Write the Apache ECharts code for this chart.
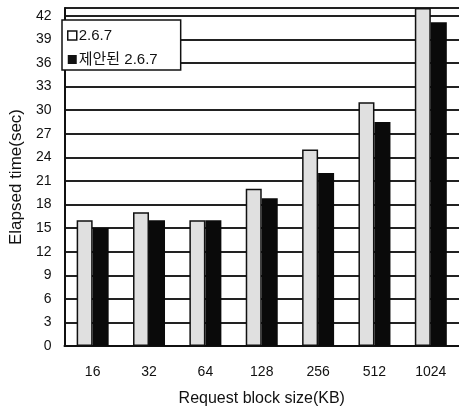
<!DOCTYPE html>
<html>
<head>
<meta charset="utf-8">
<script src="https://cdn.jsdelivr.net/npm/echarts@6/dist/echarts.min.js"></script>
<style>
  html, body { margin: 0; padding: 0; background: #fff; }
  #chart { width: 459px; height: 412px; }
</style>
</head>
<body>
<div id="chart"></div>
<script>
// Request block sizes (KB) and elapsed times (sec) for both kernels
const blockSizes = ['16', '32', '64', '128', '256', '512', '1024'];
const baseKernel = [16, 17, 16, 20, 25, 31, 43];
const proposedKernel = [15, 16, 16, 18.8, 22, 28.5, 41.2];
const seriesNames = ['2.6.7', '제안된 2.6.7'];

const FONT = '"Liberation Sans", Arial, "Noto Sans CJK KR", sans-serif';
const INK = '#111';

const chart = echarts.init(document.getElementById('chart'), null, { renderer: 'canvas' });

chart.setOption({
  animation: false,
  backgroundColor: '#fff',
  grid: { left: 62, top: 8, width: 399, bottom: 60, containLabel: false },
  legend: {
    orient: 'vertical',
    left: 62,
    top: 20,
    backgroundColor: '#fff',
    borderColor: INK,
    borderWidth: 1.5,
    padding: [8, 23, 3, 5],
    itemGap: 9,
    itemWidth: 9,
    itemHeight: 9,
    icon: 'rect',
    textStyle: { fontFamily: FONT, fontSize: 15, color: INK, padding: [0, 0, 0, -3] },
    data: [
      { name: seriesNames[0], itemStyle: { color: '#fff', borderColor: INK, borderWidth: 1.5 } },
      { name: seriesNames[1], itemStyle: { color: INK } }
    ]
  },
  xAxis: {
    type: 'category',
    data: blockSizes,
    name: 'Request block size(KB)',
    nameLocation: 'middle',
    nameGap: 45,
    nameTextStyle: { fontFamily: FONT, fontSize: 16, color: INK },
    axisLine: { lineStyle: { color: INK, width: 2 } },
    axisTick: { inside: true, length: 5, lineStyle: { color: INK, width: 1.5 } },
    axisLabel: { fontFamily: FONT, fontSize: 14, color: INK, margin: 19 },
    splitLine: { show: false }
  },
  yAxis: {
    type: 'value',
    min: 0,
    max: 43,
    interval: 3,
    name: 'Elapsed time(sec)',
    nameLocation: 'middle',
    nameGap: 34,
    nameTextStyle: { fontFamily: FONT, fontSize: 17, color: INK },
    axisLine: { show: true, lineStyle: { color: INK, width: 2 } },
    axisTick: { show: false },
    axisLabel: { fontFamily: FONT, fontSize: 14, color: INK, margin: 13, showMaxLabel: false },
    splitLine: { show: true, lineStyle: { color: '#222', width: 1.8 } }
  },
  series: [
    {
      name: seriesNames[0],
      type: 'bar',
      data: baseKernel,
      barWidth: 16,
      barGap: '0%',
      itemStyle: { color: '#e0e0e0', borderColor: INK, borderWidth: 1.5 }
    },
    {
      name: seriesNames[1],
      type: 'bar',
      data: proposedKernel,
      barWidth: 16,
      itemStyle: { color: '#0a0a0a' }
    }
  ]
});
</script>
</body>
</html>
